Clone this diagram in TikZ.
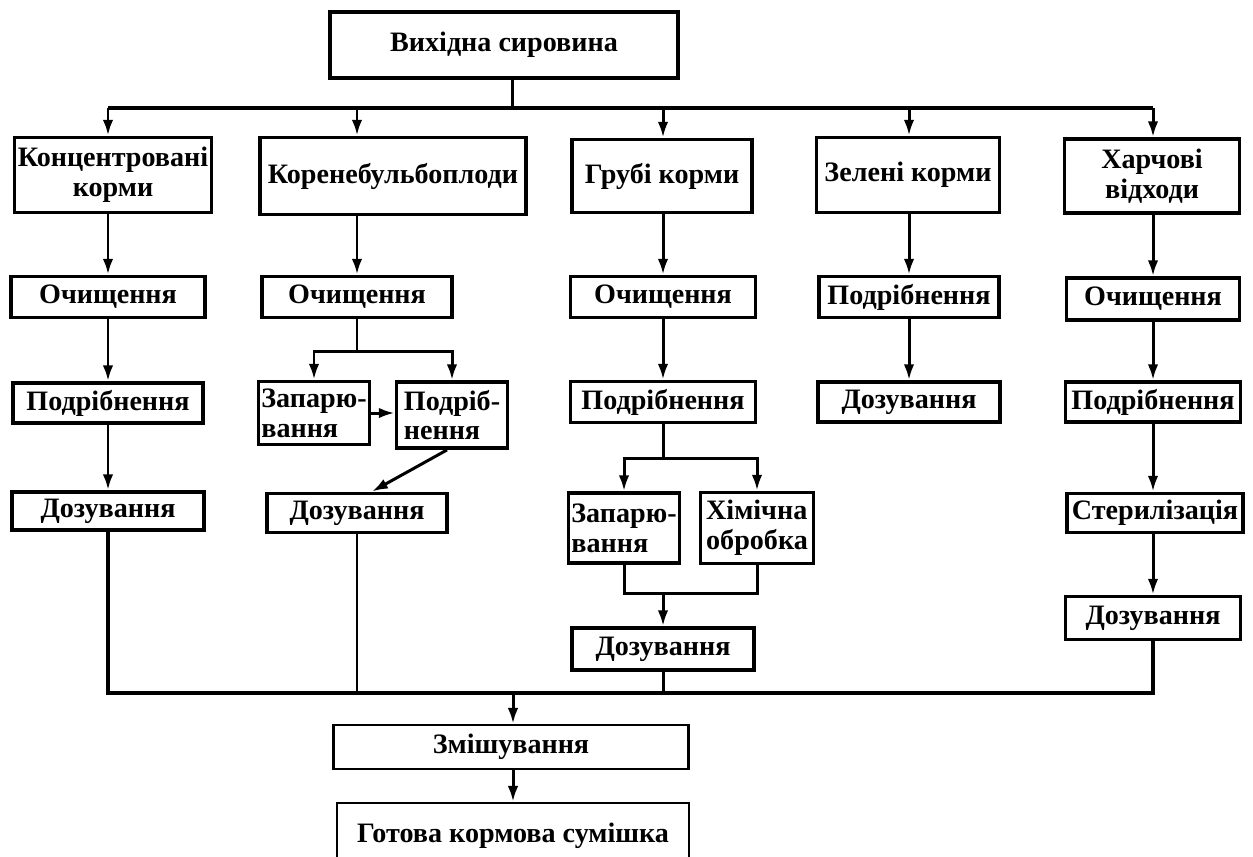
\documentclass[tikz,border=0pt]{standalone}
\usepackage{fontspec}
\setmainfont{Liberation Serif}
\usetikzlibrary{arrows.meta, calc}

\begin{document}
\begin{tikzpicture}[x=0.02cm, y=-0.02cm,
  proc/.style 2 args={draw, line width=2.2pt, minimum width=#1*0.02cm, minimum height=#2*0.02cm,
    inner sep=0pt, align=center, font=\bfseries\fontsize{16}{17}\selectfont},
  thinproc/.style 2 args={proc={#1}{#2}, line width=1.4pt},
  link/.style={line width=1.7pt},
  arr/.style={link, -{Latex[length=9pt,width=6pt]}}]
  \useasboundingbox (0,0) rectangle (1253,856);

  % source and upper bus
  \node[proc={348}{66}] (src) at (504,45) {Вихідна сировина};
  \coordinate (j0) at (512,108);
  \coordinate (t1) at (108,108);
  \coordinate (t2) at (357,108);
  \coordinate (t3) at (663,108);
  \coordinate (t4) at (909,108);
  \coordinate (t5) at (1153,108);

  % kinds of feed
  \node[proc={197}{75}] (conc) at (113,175) {Концентровані\\корми};
  \node[proc={266}{77}] (root) at (393,176) {Коренебульбоплоди};
  \node[proc={180}{73}] (rough) at (662,176) {Грубі корми};
  \node[proc={183}{75}] (green) at (908,175) {Зелені корми};
  \node[proc={175}{74}] (food) at (1152,176) {Харчові\\відходи};

  % second row
  \node[proc={194}{41}] (cln1) at (108,297) {Очищення};
  \node[proc={190}{41}] (cln2) at (357,297) {Очищення};
  \node[proc={185}{41}] (cln3) at (663,297) {Очищення};
  \node[proc={180}{41}] (crs4) at (909,297) {Подрібнення};
  \node[proc={173}{42}] (cln5) at (1153,299) {Очищення};

  % third row
  \node[proc={190}{40}] (crs1) at (108,403) {Подрібнення};
  \node[proc={111}{63}, align=left] (stm2) at (314,413) {Запарю-\\вання};
  \node[proc={111}{66}, align=left] (crs2) at (452,415) {Подріб-\\нення};
  \node[proc={185}{41}] (crs3) at (663,402) {Подрібнення};
  \node[proc={182}{40}] (dos4) at (909,402) {Дозування};
  \node[proc={175}{40}] (crs5) at (1153,402) {Подрібнення};

  % fourth row
  \node[proc={192}{38}] (dos1) at (108,511) {Дозування};
  \node[proc={180}{39}] (dos2) at (357,513) {Дозування};
  \node[proc={111}{70}, align=left] (stm3) at (624,528) {Запарю-\\вання};
  \node[proc={113}{71}, align=left] (chm3) at (757,528) {Хімічна\\обробка};
  \node[proc={176}{39}] (ster5) at (1155,513) {Стерилізація};

  % fifth row
  \node[proc={182}{42}] (dos3) at (663,649) {Дозування};
  \node[proc={175}{43}] (dos5) at (1153,618) {Дозування};

  % mixing
  \node[thinproc={355}{44}] (mix) at (511,747) {Змішування};
  \node[thinproc={352}{66}] (ready) at (513,836) {Готова кормова сумішка};

  \coordinate (s2) at (357,351);
  \coordinate (s3) at (663,458);
  \coordinate (m3) at (663,593);
  \coordinate (b1) at (108,693);
  \coordinate (b2) at (357,693);
  \coordinate (b3) at (663,693);
  \coordinate (b0) at (513,693);
  \coordinate (b5) at (1153,693);

  % upper bus
  \draw[link] (j0 |- src.south) -- (j0);
  \draw[link, line width=2pt] (t1) -- (t5);
  \foreach \t/\n in {t1/conc, t2/root, t3/rough, t4/green, t5/food}
    \draw[arr] (\t) -- (\t |- \n.north);

  % column 1
  \draw[arr] (conc.south -| cln1) -- (cln1.north);
  \draw[arr] (cln1.south) -- (crs1.north);
  \draw[arr] (crs1.south) -- (dos1.north);

  % column 2
  \draw[arr] (root.south -| cln2) -- (cln2.north);
  \draw[link] (cln2.south) -- (s2);
  \draw[arr] (s2) -| (stm2.north);
  \draw[arr] (s2) -| (crs2.north);
  \draw[arr] (stm2.east) -- (stm2.east -| crs2.west);
  \draw[arr] ($(crs2.south)+(-5,0)$) -- ($(dos2.north)+(15,0)$);

  % column 3
  \draw[arr] (rough.south -| cln3) -- (cln3.north);
  \draw[arr] (cln3.south) -- (crs3.north);
  \draw[link] (crs3.south) -- (s3);
  \draw[arr] (s3) -| (stm3.north);
  \draw[arr] (s3) -| (chm3.north);
  \draw[link] (stm3.south) -- (stm3.south |- m3) -- (chm3.south |- m3) -- (chm3.south);
  \draw[arr] (m3) -- (dos3.north);

  % column 4
  \draw[arr] (green.south -| crs4) -- (crs4.north);
  \draw[arr] (crs4.south) -- (dos4.north);

  % column 5
  \draw[arr] (food.south -| cln5) -- (cln5.north);
  \draw[arr] (cln5.south) -- (crs5.north);
  \draw[arr] (crs5.south) -- (crs5.south |- ster5.north);
  \draw[arr] (ster5.south -| dos5) -- (dos5.north);

  % lower bus
  \draw[link, line width=2pt] (dos1.south) -- (b1) -- (b5) -- (dos5.south);
  \draw[link] (dos2.south) -- (b2);
  \draw[link] (dos3.south) -- (b3);
  \draw[arr] (b0) -- (b0 |- mix.north);
  \draw[arr] (mix.south -| b0) -- (ready.north -| b0);
\end{tikzpicture}
\end{document}
